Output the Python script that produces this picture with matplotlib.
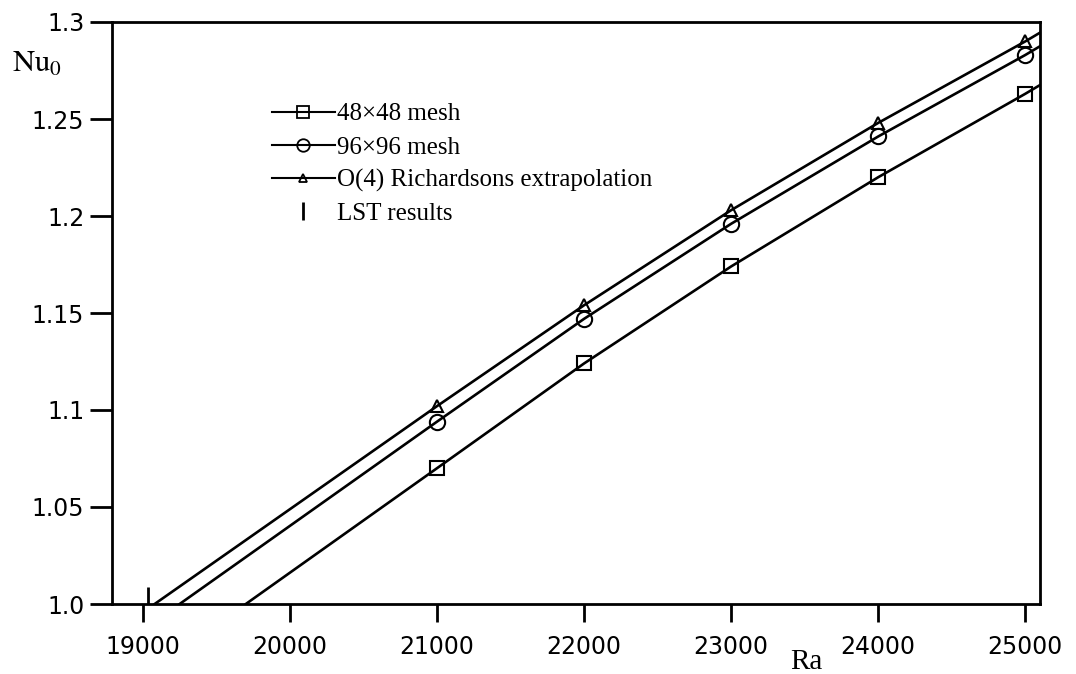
import matplotlib
matplotlib.use('Agg')
import matplotlib.pyplot as plt
import matplotlib.lines as mlines

# ── Data ──────────────────────────────────────────────────────────────────────
ra_pts = [21000, 22000, 23000, 24000, 25000]
nu_48 = [1.070, 1.124, 1.174, 1.220, 1.263]
nu_96 = [1.094, 1.147, 1.196, 1.241, 1.283]
nu_rich = [1.102, 1.154, 1.203, 1.248, 1.290]

# curves run from Nu = 1 up past the right edge
ra_48_line = [19700, 21000, 22000, 23000, 24000, 25000, 25100]
nu_48_line = [1.0, 1.070, 1.124, 1.174, 1.220, 1.263, 1.2675]
ra_96_line = [19250, 21000, 22000, 23000, 24000, 25000, 25100]
nu_96_line = [1.0, 1.094, 1.147, 1.196, 1.241, 1.283, 1.2875]
ra_rich_line = [19080, 21000, 22000, 23000, 24000, 25000, 25100]
nu_rich_line = [1.0, 1.102, 1.154, 1.203, 1.248, 1.290, 1.2945]

ra_lst = [19035]
nu_lst = [1.0]

labels = ['48\u00d748 mesh', '96\u00d796 mesh',
          'O(4) Richardsons extrapolation', 'LST results']
xticks = [19000, 20000, 21000, 22000, 23000, 24000, 25000]
yticks = [1.0, 1.05, 1.1, 1.15, 1.2, 1.25, 1.3]
ytick_labels = ['1.0', '1.05', '1.1', '1.15', '1.2', '1.25', '1.3']

W, H = 1076, 674
fig = plt.figure(figsize=(W / 100, H / 100), dpi=100)
ax = fig.add_axes([112 / W, 1 - 604 / H, (1040 - 112) / W, (604 - 22) / H])

LW = 1.9
ax.plot(ra_48_line, nu_48_line, color='black', lw=LW)
ax.plot(ra_96_line, nu_96_line, color='black', lw=LW)
ax.plot(ra_rich_line, nu_rich_line, color='black', lw=LW)

mk = dict(color='black', ls='none', mfc='none', mec='black', mew=1.5)
ax.plot(ra_pts, nu_48, marker='s', ms=10, **mk)
ax.plot(ra_pts, nu_96, marker='o', ms=11, **mk)
ax.plot(ra_pts, nu_rich, marker='^', ms=8, **mk)
ax.plot(ra_lst, nu_lst, marker='|', ms=25, mew=2, color='black', ls='none')

ax.set_xlim(18790, 25100)
ax.set_ylim(1.0, 1.3)
ax.set_xticks(xticks)
ax.set_xticklabels([str(t) for t in xticks])
ax.set_yticks(yticks)
ax.set_yticklabels(ytick_labels)

for s in ax.spines.values():
    s.set_linewidth(2)
ax.tick_params(axis='x', direction='out', length=13, width=2, pad=9,
               labelsize=17)
ax.tick_params(axis='y', direction='out', length=16, width=2, pad=4,
               labelsize=17)
for lab in ax.get_xticklabels() + ax.get_yticklabels():
    lab.set_family('DejaVu Sans')

# axis titles in a Times-like face
fig.text(12 / W, 1 - 72 / H, r'$\mathrm{Nu}_0$', fontsize=22,
         ha='left', va='baseline', math_fontfamily='stix')
fig.text(790 / W, 1 - 669 / H, 'Ra', fontsize=21, family='Liberation Serif',
         ha='left', va='baseline')

# ── Legend ────────────────────────────────────────────────────────────────────
handles = [
    mlines.Line2D([], [], color='black', lw=1.5, marker='s', ms=8,
                  mfc='none', mew=1.3),
    mlines.Line2D([], [], color='black', lw=1.5, marker='o', ms=9,
                  mfc='none', mew=1.3),
    mlines.Line2D([], [], color='black', lw=1.5, marker='^', ms=6,
                  mfc='none', mew=1.3),
    mlines.Line2D([], [], color='black', ls='none', marker='|', ms=13,
                  mew=2),
]
leg = fig.legend(handles=handles, labels=labels, loc='upper left',
                 bbox_to_anchor=(272 / W, 1 - 103 / H),
                 frameon=False, prop={'family': 'Liberation Serif', 'size': 18},
                 handlelength=2.5, handletextpad=0.1, labelspacing=0.42,
                 borderpad=0, borderaxespad=0)

fig.savefig('out.png', dpi=100)
